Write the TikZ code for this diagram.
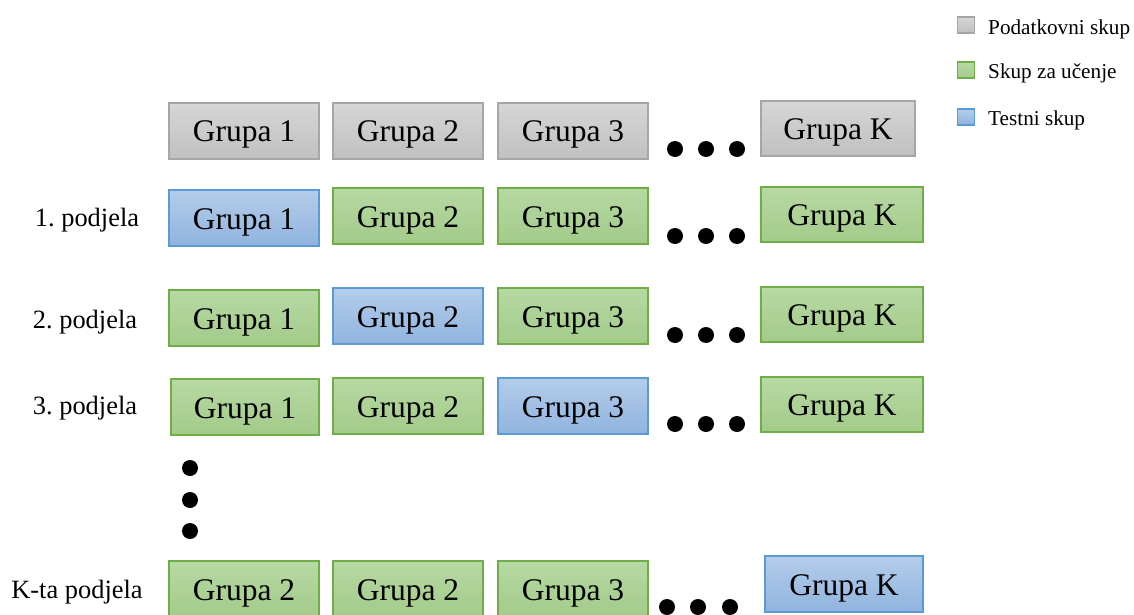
\documentclass[tikz,border=0pt]{standalone}
\usepackage{fontspec}
\setmainfont{Liberation Serif}
\begin{document}
\frenchspacing
\begin{tikzpicture}[x=1pt,y=-1pt,
  box/.style={draw, line width=1.2pt, inner sep=0pt, font=\fontsize{31.5}{36}\selectfont, text=black, text height=28pt, text depth=6pt},
  gbox/.style={box, draw=gborder, top color=gtop, bottom color=gbot},
  tbox/.style={box, draw=tborder, top color=ttop, bottom color=tbot},
  pbox/.style={box, draw=pborder, top color=ptop, bottom color=pbot},
  lab/.style={font=\fontsize{26.4}{30}\selectfont, inner sep=0pt},
  leg/.style={font=\fontsize{21.2}{24}\selectfont, inner sep=0pt, anchor=west},
  legsq/.style={draw, line width=1.2pt, minimum width=17pt, minimum height=16pt, inner sep=0pt},
  dot/.style={circle, fill=black, minimum size=16pt, inner sep=0pt}
]
\definecolor{gborder}{HTML}{A6A6A6}\definecolor{gtop}{HTML}{D6D6D6}\definecolor{gbot}{HTML}{C0C0C0}
\definecolor{tborder}{HTML}{70AD47}\definecolor{ttop}{HTML}{B7D9A3}\definecolor{tbot}{HTML}{A2CB89}
\definecolor{pborder}{HTML}{5B9BD5}\definecolor{ptop}{HTML}{B4CDEA}\definecolor{pbot}{HTML}{90B3DF}
\useasboundingbox (0,0) rectangle (1134,615);
\clip (0,0) rectangle (1134,615);
% legend
\node[legsq, draw=gborder, top color=gtop, bottom color=gbot] (l1) at (966,25) {};
\node[legsq, draw=tborder, top color=ttop, bottom color=tbot] (l2) at (966,70) {};
\node[legsq, draw=pborder, top color=ptop, bottom color=pbot] (l3) at (966,117) {};
\node[leg] (lt1) at (988,29) {Podatkovni skup};
\node[leg] (lt2) at (988,73) {Skup za učenje};
\node[leg] (lt3) at (988,120) {Testni skup};
% row 0
\node[gbox, minimum width=150pt, minimum height=56pt] (a1) at (244,131) {Grupa 1};
\node[gbox, minimum width=150pt, minimum height=56pt] (a2) at (408,131) {Grupa 2};
\node[gbox, minimum width=150pt, minimum height=56pt] (a3) at (573,131) {Grupa 3};
\node[gbox, minimum width=154pt, minimum height=55pt] (aK) at (838,128.5) {Grupa K};
\node[dot] (ad1) at (675,149) {};\node[dot] (ad2) at (706,149) {};\node[dot] (ad3) at (737,149) {};
% row 1
\node[lab] (r1) at (87,220) {1. podjela};
\node[pbox, minimum width=150pt, minimum height=56pt] (b1) at (244,218) {Grupa 1};
\node[tbox, minimum width=150pt, minimum height=56pt] (b2) at (408,216) {Grupa 2};
\node[tbox, minimum width=150pt, minimum height=56pt] (b3) at (573,216) {Grupa 3};
\node[tbox, minimum width=162pt, minimum height=55pt] (bK) at (842,214.5) {Grupa K};
\node[dot] (bd1) at (675,236) {};\node[dot] (bd2) at (706,236) {};\node[dot] (bd3) at (737,236) {};
% row 2
\node[lab] (r2) at (85,322) {2. podjela};
\node[tbox, minimum width=150pt, minimum height=56pt] (c1) at (244,318) {Grupa 1};
\node[pbox, minimum width=150pt, minimum height=56pt] (c2) at (408,316) {Grupa 2};
\node[tbox, minimum width=150pt, minimum height=56pt] (c3) at (573,316) {Grupa 3};
\node[tbox, minimum width=162pt, minimum height=55pt] (cK) at (842,314.5) {Grupa K};
\node[dot] (cd1) at (675,335) {};\node[dot] (cd2) at (706,335) {};\node[dot] (cd3) at (737,335) {};
% row 3
\node[lab] (r3) at (85,408) {3. podjela};
\node[tbox, minimum width=148pt, minimum height=56pt] (d1) at (245,407) {Grupa 1};
\node[tbox, minimum width=150pt, minimum height=56pt] (d2) at (408,406) {Grupa 2};
\node[pbox, minimum width=150pt, minimum height=56pt] (d3) at (573,406) {Grupa 3};
\node[tbox, minimum width=162pt, minimum height=55pt] (dK) at (842,404.5) {Grupa K};
\node[dot] (dd1) at (675,424) {};\node[dot] (dd2) at (706,424) {};\node[dot] (dd3) at (737,424) {};
% vertical dots
\node[dot] (v1) at (190,468) {};\node[dot] (v2) at (190,500) {};\node[dot] (v3) at (190,531) {};
% row K
\node[lab] (rK) at (77,592) {K-ta podjela};
\node[tbox, minimum width=150pt, minimum height=56pt] (e1) at (244,589) {Grupa 2};
\node[tbox, minimum width=150pt, minimum height=56pt] (e2) at (408,589) {Grupa 2};
\node[tbox, minimum width=150pt, minimum height=56pt] (e3) at (573,589) {Grupa 3};
\node[pbox, minimum width=158pt, minimum height=56pt] (eK) at (844,584) {Grupa K};
\node[dot] (ed1) at (667,607) {};\node[dot] (ed2) at (698,607) {};\node[dot] (ed3) at (730,607) {};
\end{tikzpicture}
\end{document}
